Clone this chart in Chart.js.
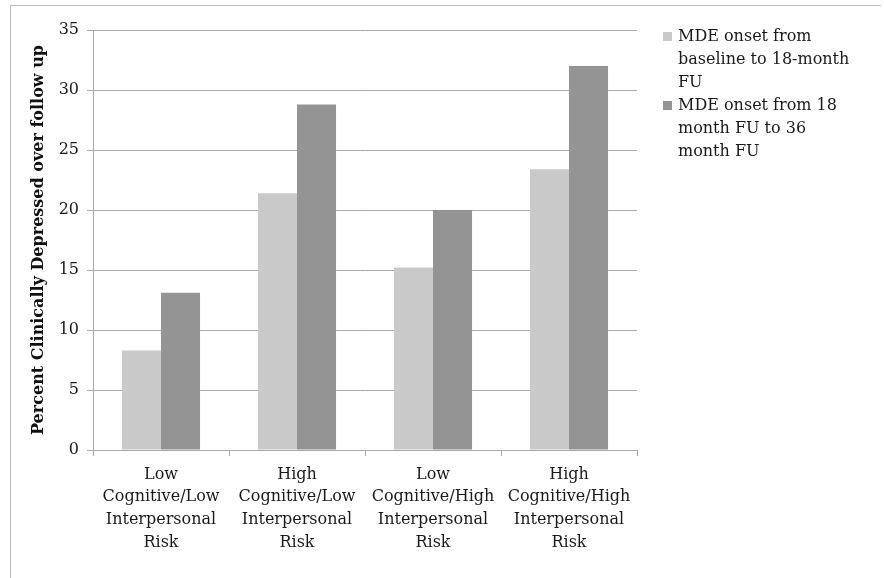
<!DOCTYPE html>
<html>
<head>
<meta charset="utf-8">
<script src="https://cdn.jsdelivr.net/npm/chart.js@4/dist/chart.umd.min.js"></script>
<style>
  html, body { margin: 0; padding: 0; background: #fff; }
  #wrap { position: relative; width: 884px; height: 578px; }
  #frame { position: absolute; left: 10px; top: 5px; width: 870px; height: 580px;
           border-top: 1px solid #bdbdbd; border-left: 1px solid #bdbdbd; }
  canvas { position: absolute; left: 0; top: 0; }
</style>
</head>
<body>
<div id="wrap">
  <div id="frame"></div>
  <canvas id="chart" width="884" height="578"></canvas>
</div>
<script>
var categories = [
    ["Low", "Cognitive/Low", "Interpersonal", "Risk"],
    ["High", "Cognitive/Low", "Interpersonal", "Risk"],
    ["Low", "Cognitive/High", "Interpersonal", "Risk"],
    ["High", "Cognitive/High", "Interpersonal", "Risk"]
];
var seriesNames = [
    ["MDE onset from", "baseline to 18-month", "FU"],
    ["MDE onset from 18", "month FU to 36", "month FU"]
];
var onsetTo18 = [8.3, 21.4, 15.2, 23.4];
var onset18To36 = [13.1, 28.8, 20.0, 32.0];
var seriesColors = ["#c9c9c9", "#949494"];

var fontFamily = "'DejaVu Serif', serif";

// legend drawn at the right with wrapped lines
var sideLegend = {
    id: 'sideLegend',
    afterDraw: function(chart) {
        var ctx = chart.ctx;
        var x = 663, y = 37, lh = 23;
        ctx.save();
        ctx.font = "16px " + fontFamily;
        ctx.textBaseline = "middle";
        chart.data.datasets.forEach(function(ds, i) {
            ctx.fillStyle = ds.backgroundColor;
            ctx.fillRect(x, y - 5, 9, 9);
            ctx.fillStyle = "#1a1a1a";
            seriesNames[i].forEach(function(line, j) {
                ctx.fillText(line, x + 15, y + j * lh);
            });
            y += seriesNames[i].length * lh;
        });
        ctx.restore();
    }
};

new Chart(document.getElementById("chart"), {
    type: 'bar',
    data: {
        labels: categories,
        datasets: [
            {
                label: seriesNames[0].join(" "),
                backgroundColor: seriesColors[0],
                data: onsetTo18
            },
            {
                label: seriesNames[1].join(" "),
                backgroundColor: seriesColors[1],
                data: onset18To36
            }
        ]
    },
    options: {
        responsive: false,
        animation: false,
        layout: { padding: { left: 0, top: 30, right: 247, bottom: 0 } },
        datasets: { bar: { categoryPercentage: 0.574, barPercentage: 1.0 } },
        plugins: {
            legend: { display: false },
            tooltip: { enabled: false }
        },
        scales: {
            x: {
                grid: { offset: true, drawOnChartArea: false, tickLength: 6, color: "#aaaaaa" },
                border: { color: "#aaaaaa" },
                ticks: { color: "#1a1a1a", font: { family: fontFamily, size: 16, lineHeight: 1.43 }, maxRotation: 0, padding: 7 },
                afterFit: function(scale) { scale.height = 128; }
            },
            y: {
                min: 0,
                max: 35,
                ticks: { stepSize: 5, color: "#1a1a1a", font: { family: fontFamily, size: 16 }, padding: 8 },
                grid: { color: "#aaaaaa", tickLength: 6 },
                border: { color: "#aaaaaa" },
                title: {
                    display: true,
                    text: "Percent Clinically Depressed over follow up",
                    color: "#111",
                    font: { family: fontFamily, size: 16, weight: 'bold' },
                    padding: { top: 29, bottom: 0 }
                },
                afterFit: function(scale) { scale.width = 93; }
            }
        }
    },
    plugins: [sideLegend]
});
</script>
</body>
</html>
